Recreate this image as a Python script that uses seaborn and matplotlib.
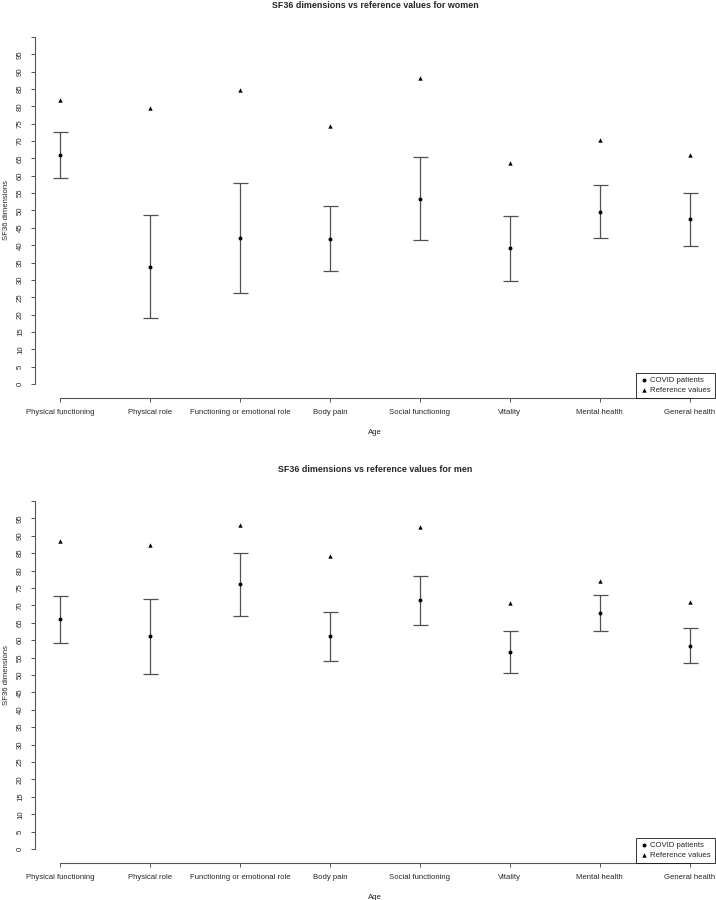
import matplotlib
matplotlib.use('Agg')
import matplotlib.pyplot as plt
import seaborn as sns

dimensions = ['Physical functioning', 'Physical role', 'Functioning or emotional role',
              'Body pain', 'Social functioning', 'Vitality', 'Mental health', 'General health']

# women
women_mean = [66.0, 33.8, 42.1, 41.7, 53.3, 39.1, 49.6, 47.4]
women_low = [59.3, 19.1, 26.3, 32.5, 41.4, 29.8, 42.0, 39.7]
women_high = [72.6, 48.6, 57.9, 51.2, 65.4, 48.4, 57.3, 55.1]
women_ref = [81.7, 79.6, 84.6, 74.4, 88.1, 63.7, 70.2, 66.0]

# men
men_mean = [66.0, 61.2, 76.0, 61.1, 71.4, 56.6, 67.7, 58.3]
men_low = [59.3, 50.4, 67.0, 54.1, 64.5, 50.6, 62.5, 53.4]
men_high = [72.6, 71.9, 85.0, 68.0, 78.3, 62.5, 73.1, 63.5]
men_ref = [88.4, 87.4, 93.0, 84.1, 92.6, 70.6, 77.0, 70.9]

y_ticks = list(range(0, 105, 5))

sns.set_style('ticks')
plt.rcParams['font.family'] = ['Liberation Sans', 'DejaVu Sans']
FS = 5.6


def draw_panel(ax, mean, low, high, ref, title):
    pos = list(range(1, len(dimensions) + 1))
    err = [[m - l for m, l in zip(mean, low)], [h - m for m, h in zip(mean, high)]]
    ax.errorbar(pos, mean, yerr=err, fmt='none', ecolor='#505050',
                elinewidth=0.9, capsize=5.4, capthick=0.9)
    sns.scatterplot(x=pos, y=mean, marker='o', color='black', s=8, linewidth=0,
                    label='COVID patients', ax=ax, zorder=3)
    sns.scatterplot(x=pos, y=ref, marker='^', color='black', s=10, linewidth=0,
                    label='Reference values', ax=ax, zorder=3)

    ax.set_xlim(0.72, 8.28)
    ax.set_ylim(-4, 104)
    ax.set_xticks(pos)
    ax.set_xticklabels(dimensions, fontsize=FS)
    ax.set_yticks(y_ticks)
    ax.set_yticklabels([str(v) for v in y_ticks[:-1]] + [''], fontsize=FS,
                       rotation=90, va='center')
    for s in ['top', 'right']:
        ax.spines[s].set_visible(False)
    ax.spines['left'].set_bounds(0, 100)
    ax.spines['bottom'].set_bounds(1, 8)
    for s in ['left', 'bottom']:
        ax.spines[s].set_color('#555555')
        ax.spines[s].set_linewidth(0.8)
    ax.tick_params(direction='out', length=3, width=0.7, color='#555555', pad=5)
    ax.set_xlabel('Age', fontsize=FS, labelpad=9)
    ax.set_ylabel('SF36 dimensions', fontsize=FS, labelpad=5)
    ax.set_title(title, fontsize=6.4, fontweight='bold', pad=11)
    leg = ax.legend(loc='lower right', borderaxespad=0, fontsize=FS, frameon=True,
                    fancybox=False, edgecolor='black', handletextpad=0.3,
                    borderpad=0.5, labelspacing=0.3, handlelength=1.0, markerscale=1.0)
    leg.get_frame().set_linewidth(0.7)


fig = plt.figure(figsize=(7.16, 9), dpi=100)
ax1 = fig.add_axes([0.0489, 0.5578, 0.9497, 0.4167])
ax2 = fig.add_axes([0.0489, 0.0411, 0.9497, 0.4178])

draw_panel(ax1, women_mean, women_low, women_high, women_ref,
           'SF36 dimensions vs reference values for women')
draw_panel(ax2, men_mean, men_low, men_high, men_ref,
           'SF36 dimensions vs reference values for men')

fig.savefig('out.png', dpi=100, facecolor='white')
plt.close(fig)
